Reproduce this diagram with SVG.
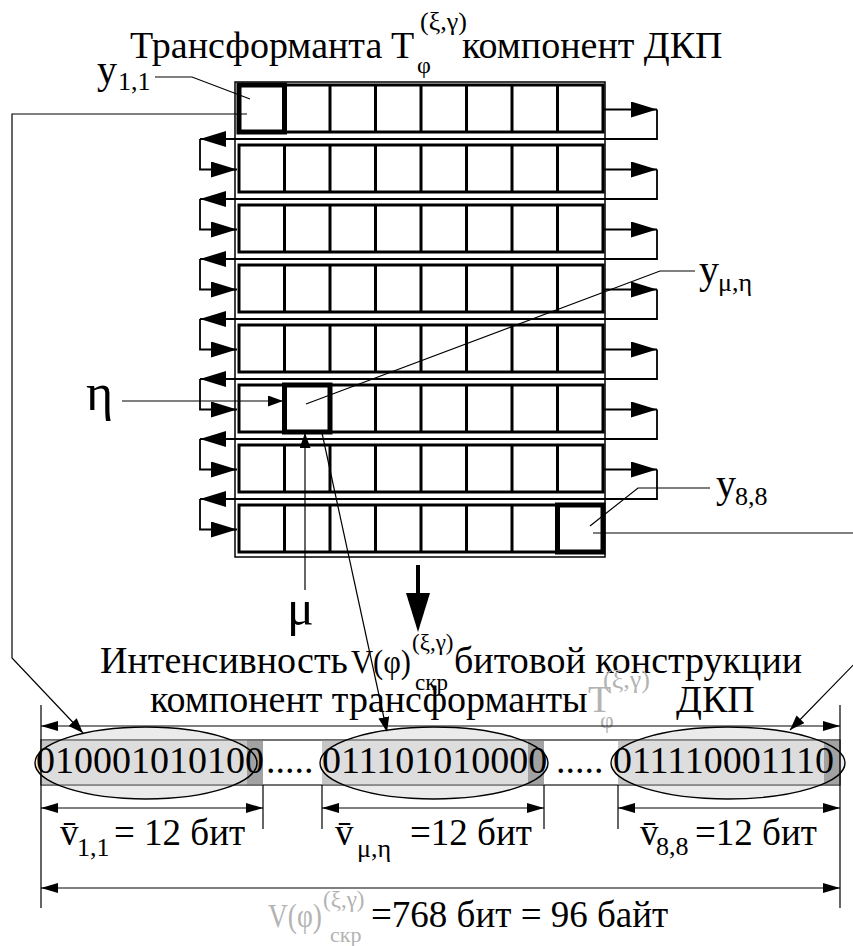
<svg xmlns="http://www.w3.org/2000/svg" width="853" height="946" viewBox="0 0 853 946" font-family="'Liberation Serif', 'DejaVu Serif', serif">
<defs>
<style>
text{font-family:"Liberation Serif","DejaVu Serif",serif;fill:#000}
.t{font-size:38px}
.sub{font-size:26px}
.g{fill:#b3b3b3}
.row{fill:#fff;stroke:#000;stroke-width:3}
.div{stroke:#000;stroke-width:3}
.hl{fill:none;stroke:#000;stroke-width:5}
.frame{fill:none;stroke:#000;stroke-width:1.5}
.thin{fill:none;stroke:#000;stroke-width:1.2}
.conn{fill:none;stroke:#000;stroke-width:1.8}
.big{marker-end:url(#ah)}
.seg{fill:#c6c6c6}
.dark{fill:#a2a2a2}
.ef{fill:#e4e4e4;fill-opacity:0.75}
.eo{fill:none;stroke:#000;stroke-width:1.4}
.dim{fill:none;stroke:#000;stroke-width:1.2;marker-start:url(#ds);marker-end:url(#ds)}
</style>
<marker id="ah" markerUnits="userSpaceOnUse" markerWidth="27" markerHeight="18" refX="26" refY="8" orient="auto"><path d="M0,0L26,8L0,16Z" fill="#000"/></marker>
<marker id="as" markerUnits="userSpaceOnUse" markerWidth="16" markerHeight="12" refX="15" refY="5.5" orient="auto"><path d="M0,0L15,5.5L0,11Z" fill="#000"/></marker>
<marker id="ds" markerUnits="userSpaceOnUse" markerWidth="18" markerHeight="12" refX="17" refY="5" orient="auto-start-reverse"><path d="M0,0L17,5L0,10Z" fill="#000"/></marker>
<g id="rowtpl">
<rect class="row" x="239" y="0" width="364" height="47"/>
<path class="div" d="M284.5,0V47M330,0V47M375.5,0V47M421,0V47M466.5,0V47M512,0V47M557.5,0V47"/>
</g>
</defs>
<rect width="853" height="946" fill="#fff"/>

<g id="title">
<text class="t" x="130" y="58">Трансформанта</text>
<text class="t" x="391" y="58">T</text>
<text x="417" y="73" style="font-size:24px">φ</text>
<text x="420" y="30" style="font-size:26px">(ξ,γ)</text>
<text class="t" x="462" y="58">компонент ДКП</text>
</g>

<g id="connectors">
<path class="conn" d="M235,139H605M235,199H605M235,259H605M235,319H605M235,379H605M235,439H605M235,499H605"/>
<path class="conn big" d="M603,109.5H657"/>
<path class="conn big" d="M657,109.5V139H200"/>
<path class="conn big" d="M200,139V169.5H237"/>
<path class="conn big" d="M603,169.5H657"/>
<path class="conn big" d="M657,169.5V199H200"/>
<path class="conn big" d="M200,199V229.5H237"/>
<path class="conn big" d="M603,229.5H657"/>
<path class="conn big" d="M657,229.5V259H200"/>
<path class="conn big" d="M200,259V289.5H237"/>
<path class="conn big" d="M603,289.5H657"/>
<path class="conn big" d="M657,289.5V319H200"/>
<path class="conn big" d="M200,319V349.5H237"/>
<path class="conn big" d="M603,349.5H657"/>
<path class="conn big" d="M657,349.5V379H200"/>
<path class="conn big" d="M200,379V409.5H237"/>
<path class="conn big" d="M603,409.5H657"/>
<path class="conn big" d="M657,409.5V439H200"/>
<path class="conn big" d="M200,439V469.5H237"/>
<path class="conn big" d="M603,469.5H657"/>
<path class="conn big" d="M657,469.5V499H200"/>
<path class="conn big" d="M200,499V529.5H237"/>
</g>

<g id="grid">
<rect class="frame" x="235" y="82" width="370" height="475"/>
<use href="#rowtpl" y="85"/>
<use href="#rowtpl" y="145"/>
<use href="#rowtpl" y="205"/>
<use href="#rowtpl" y="265"/>
<use href="#rowtpl" y="325"/>
<use href="#rowtpl" y="385"/>
<use href="#rowtpl" y="445"/>
<use href="#rowtpl" y="505"/>
<rect class="hl" x="239" y="85" width="45.5" height="47"/>
<rect class="hl" x="284.5" y="385" width="45.5" height="47"/>
<rect class="hl" x="557.5" y="505" width="45.5" height="47"/>
</g>

<g id="leaders">
<polyline class="thin" points="155,77 192,77 250,99"/>
<polyline class="thin" points="247,114 12,114 12,658 83,733" marker-end="url(#as)"/>
<polyline class="thin" points="695,271 660,271 306,404"/>
<polyline class="thin" points="710,488 638,488 590,526"/>
<polyline class="thin" points="593,533 862,533 862,656 790,730" marker-end="url(#as)"/>
<line class="thin" x1="322" y1="433" x2="387" y2="732" marker-end="url(#as)"/>
<line class="thin" x1="122" y1="401" x2="283" y2="401" marker-end="url(#as)"/>
<line class="thin" x1="305" y1="590" x2="305" y2="433" marker-end="url(#as)"/>
<path d="M418,565V596" stroke="#000" stroke-width="4"/>
<path d="M406,593H430L418,632Z" fill="#000"/>
</g>

<g id="labels">
<text x="97" y="83" style="font-size:40px">y</text>
<text class="sub" x="118" y="90">1,1</text>
<text x="699" y="283" style="font-size:40px">y</text>
<text class="sub" x="718" y="291">μ,η</text>
<text x="716" y="497" style="font-size:40px">y</text>
<text class="sub" x="735" y="505">8,8</text>
<text x="86" y="410" style="font-size:52px">η</text>
<text x="287" y="625" style="font-size:50px">μ</text>
</g>

<g id="caption">
<text class="t" x="100" y="673">Интенсивность</text>
<text x="351" y="673" style="font-size:34px" textLength="60" lengthAdjust="spacingAndGlyphs">V(φ)</text>
<text x="412" y="650" style="font-size:23px">(ξ,γ)</text>
<text x="415" y="690" style="font-size:23px">скр</text>
<text class="t" x="454" y="673">битовой конструкции</text>
<text class="t" x="150" y="712">компонент трансформанты</text>
<text class="t g" x="588" y="712">T</text>
<text class="g" x="600" y="728" style="font-size:24px">φ</text>
<text class="g" x="603" y="688" style="font-size:26px">(ξ,γ)</text>
<text class="t" x="676" y="712">ДКП</text>
</g>

<g id="bitstring">
<rect x="41" y="740" width="799" height="45" fill="#fff" stroke="#444" stroke-width="1"/>
<rect class="seg" x="41" y="740" width="222" height="45"/>
<rect class="seg" x="322" y="740" width="222" height="45"/>
<rect class="seg" x="618" y="740" width="222" height="45"/>
<ellipse class="ef" cx="146" cy="763" rx="111" ry="36"/>
<ellipse class="ef" cx="434" cy="763" rx="114" ry="36"/>
<ellipse class="ef" cx="728" cy="763" rx="117" ry="36"/>
<rect class="dark" x="247" y="740" width="16" height="45"/>
<rect class="dark" x="528" y="740" width="16" height="45"/>
<rect class="dark" x="824" y="740" width="16" height="45"/>
<rect x="41" y="740" width="799" height="45" fill="none" stroke="#444" stroke-width="1"/>
<ellipse class="eo" cx="146" cy="763" rx="111" ry="36"/>
<ellipse class="eo" cx="434" cy="763" rx="114" ry="36"/>
<ellipse class="eo" cx="728" cy="763" rx="117" ry="36"/>
<text class="t" x="36" y="773">010001010100</text>
<text class="t" x="266" y="773">.....</text>
<text class="t" x="322" y="773">011101010000</text>
<text class="t" x="556" y="773">.....</text>
<text class="t" x="613" y="773">011110001110</text>
</g>

<g id="dimensions">
<path class="thin" d="M41,705V908M840,705V908M263,785V829M322,785V829M544,785V829M618,785V829"/>
<path class="dim" d="M41,726H840"/>
<path class="dim" d="M41,808H263"/>
<path class="dim" d="M322,808H544"/>
<path class="dim" d="M618,808H840"/>
<path class="dim" d="M41,888H840"/>
<text x="60" y="845" style="font-size:37px">v̄</text>
<text class="sub" x="77" y="856">1,1</text>
<text x="114" y="845" style="font-size:37px">= 12 бит</text>
<text x="335" y="845" style="font-size:37px">v̄</text>
<text class="sub" x="357" y="857">μ,η</text>
<text x="410" y="845" style="font-size:37px">=12 бит</text>
<text x="640" y="845" style="font-size:37px">v̄</text>
<text class="sub" x="656" y="855">8,8</text>
<text x="695" y="845" style="font-size:37px">=12 бит</text>
<text class="g" x="268" y="927" style="font-size:34px" textLength="54" lengthAdjust="spacingAndGlyphs">V(φ)</text>
<text class="g" x="323" y="907" style="font-size:23px">(ξ,γ)</text>
<text class="g" x="330" y="942" style="font-size:22px">скр</text>
<text x="371" y="927" style="font-size:37px">=768 бит = 96 байт</text>
</g>
</svg>
